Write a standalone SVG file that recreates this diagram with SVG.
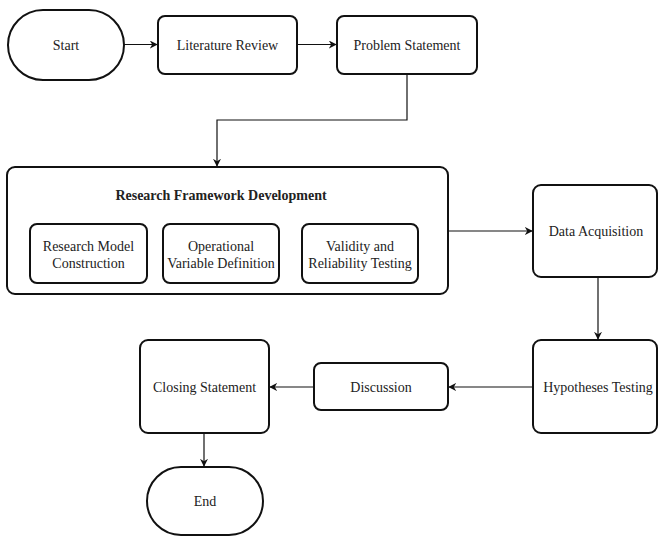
<svg xmlns="http://www.w3.org/2000/svg" width="659" height="536" viewBox="0 0 659 536">
<style>
.n{fill:#fff;stroke:#111;stroke-width:2}
text{font-family:'Liberation Serif','Times New Roman','DejaVu Serif',serif;font-size:14px;fill:#222;text-anchor:middle;dominant-baseline:central}
.b{font-weight:bold}
.c{fill:none;stroke:#111;stroke-width:1.2;marker-end:url(#a)}
</style>
<defs>
<marker id="a" viewBox="0 0 10 10" refX="9" refY="5" markerWidth="8" markerHeight="8" markerUnits="userSpaceOnUse" orient="auto">
<path d="M0,0 L10,5 L0,10 L3,5 Z" fill="#111"/>
</marker>
</defs>
<g id="connectors">
<path class="c" d="M124,44.5 H157"/>
<path class="c" d="M297,44.5 H336"/>
<path class="c" d="M407,74 V120 H217 V166"/>
<path class="c" d="M448,231 H532"/>
<path class="c" d="M598,277 V339"/>
<path class="c" d="M533,387 H449"/>
<path class="c" d="M314,387 H270"/>
<path class="c" d="M204,433 V466"/>
</g>
<g id="start"><rect class="n" x="8" y="10" width="116" height="70" rx="35"/><text x="66" y="45">Start</text></g>
<g id="literature"><rect class="n" x="158" y="16" width="139" height="58" rx="7"/><text x="227.5" y="45">Literature Review</text></g>
<g id="problem"><rect class="n" x="337" y="16" width="140" height="58" rx="7"/><text x="407" y="45">Problem Statement</text></g>
<g id="framework"><rect class="n" x="7" y="167" width="441" height="127" rx="8"/><text class="b" x="221" y="195">Research Framework Development</text>
<g id="model"><rect class="n" x="30" y="224" width="117" height="59" rx="7"/><text x="88.5" y="246">Research Model</text><text x="88.5" y="263">Construction</text></g>
<g id="variable"><rect class="n" x="163" y="224" width="116" height="59" rx="7"/><text x="221" y="246">Operational</text><text x="221" y="263">Variable Definition</text></g>
<g id="validity"><rect class="n" x="302" y="224" width="116" height="59" rx="7"/><text x="360" y="246">Validity and</text><text x="360" y="263">Reliability Testing</text></g>
</g>
<g id="data"><rect class="n" x="533" y="185" width="124" height="92" rx="8"/><text x="596" y="231">Data Acquisition</text></g>
<g id="hypotheses"><rect class="n" x="533" y="340" width="124" height="93" rx="8"/><text x="598" y="387">Hypotheses Testing</text></g>
<g id="discussion"><rect class="n" x="314" y="363" width="134" height="47" rx="7"/><text x="381" y="387">Discussion</text></g>
<g id="closing"><rect class="n" x="140" y="340" width="129" height="93" rx="8"/><text x="204.5" y="387">Closing Statement</text></g>
<g id="end"><rect class="n" x="147" y="467" width="116" height="68" rx="34"/><text x="205" y="501">End</text></g>
</svg>
